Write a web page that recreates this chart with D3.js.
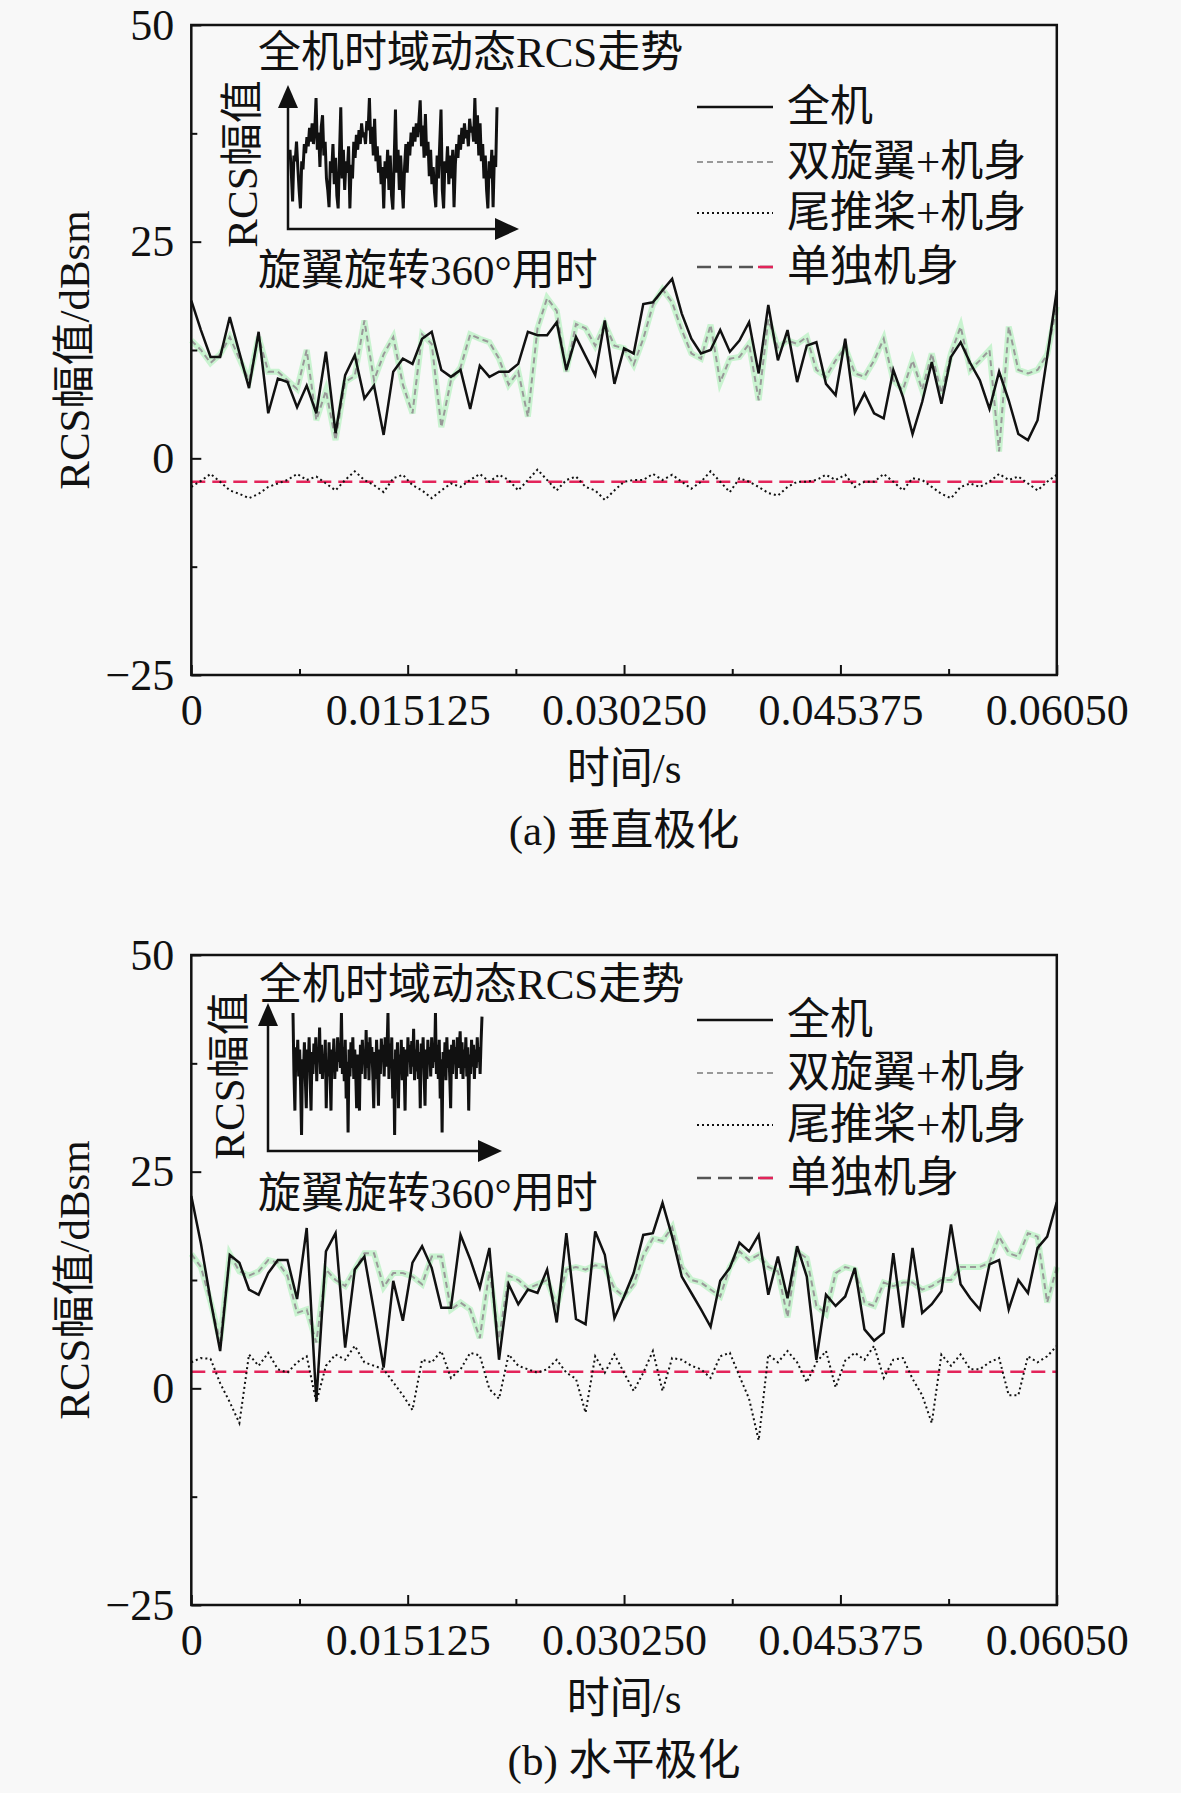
<!DOCTYPE html>
<html>
<head>
<meta charset="utf-8">
<script src="https://cdn.jsdelivr.net/npm/d3@7/dist/d3.min.js"></script>
<style>
    html, body { margin: 0; padding: 0; background: #f8f8f8; }
    svg { display: block; }
</style>
</head>
<body>
<div id="chart"></div>
<script>
// ---- data ----
var timeTicks = [0, 0.015125, 0.03025, 0.045375, 0.0605];
var timeTickLabels = ["0", "0.015125", "0.030250", "0.045375", "0.06050"];
var timeMinor = [0.0075625, 0.0226875, 0.0378125, 0.0529375];
var rcsTicks = [-25, 0, 25, 50];
var rcsTickLabels = ["\u221225", "0", "25", "50"];
var rcsMinor = [-12.5, 12.5, 37.5];
var seriesNames = ["全机", "双旋翼+机身", "尾推桨+机身", "单独机身"];

// 91 samples over one 360 deg rotor turn (0 .. 0.0605 s)
var sampleCount = 91;
var timeEnd = 0.0605;

// (a) vertical polarisation
var fullA = [18.2, 14.8, 11.7, 11.7, 16.3, 12.2, 8.1, 14.6, 5.2, 9.2, 8.8, 5.9, 8.4, 5.2, 12.3, 2.9, 9.6, 11.9, 6.9, 8.4,
    2.7, 10.0, 11.5, 10.9, 13.8, 14.6, 10.2, 9.4, 10.2, 5.7, 10.7, 9.4, 10.0, 10.0, 10.9, 14.6, 14.2, 14.2, 15.7, 10.2,
    14.0, 11.8, 9.6, 15.9, 8.6, 12.7, 12.1, 17.8, 18.0, 19.4, 20.7, 16.7, 13.8, 12.1, 12.5, 14.8, 12.3, 13.6, 15.7, 9.8,
    17.7, 11.3, 14.8, 8.8, 13.0, 13.4, 8.6, 7.3, 13.8, 5.3, 7.5, 5.2, 4.6, 10.2, 7.1, 2.8, 6.5, 11.1, 6.3, 11.7,
    13.4, 11.0, 9.0, 5.7, 10.0, 6.7, 2.8, 2.1, 4.4, 11.7, 19.4];
var rotorA = [13.6, 12.5, 11.0, 12.0, 14.0, 11.5, 9.0, 14.0, 10.0, 10.0, 9.0, 8.0, 12.5, 4.4, 7.8, 2.1, 8.8, 9.5, 15.9, 9.0,
    12.0, 14.0, 8.5, 5.2, 14.3, 13.2, 3.6, 9.0, 10.5, 14.3, 13.8, 13.4, 11.5, 8.5, 10.0, 4.8, 15.0, 18.5, 17.0, 10.0,
    15.5, 15.0, 13.0, 15.5, 13.0, 12.7, 10.8, 13.8, 17.7, 19.5, 18.0, 14.8, 12.1, 11.5, 15.4, 8.8, 11.5, 11.7, 13.2, 6.7,
    16.0, 12.8, 13.6, 13.2, 14.0, 10.2, 9.4, 11.3, 12.8, 9.8, 9.4, 11.3, 13.8, 9.0, 7.9, 11.3, 7.9, 12.1, 7.5, 12.1,
    15.2, 10.2, 11.3, 12.5, 0.8, 15.2, 10.2, 9.8, 10.2, 12.0, 17.5];
var tailA = [-3.3, -2.6, -1.8, -2.7, -3.7, -4.1, -4.6, -4.1, -3.3, -2.9, -2.5, -1.8, -2.5, -2.1, -2.9, -3.7, -2.5, -1.5, -2.5, -3.1,
    -3.9, -2.3, -1.9, -3.1, -3.7, -4.6, -3.7, -2.9, -3.3, -2.5, -1.8, -2.7, -1.9, -2.5, -3.7, -2.5, -1.3, -2.5, -3.7, -2.5,
    -2.1, -3.3, -3.7, -4.8, -3.7, -2.7, -2.5, -2.5, -1.8, -2.5, -1.9, -2.7, -3.5, -2.7, -1.5, -2.7, -3.9, -2.3, -2.7, -3.3,
    -4.0, -4.3, -3.3, -2.7, -2.7, -2.5, -1.9, -2.5, -1.9, -3.3, -2.7, -2.7, -1.8, -2.7, -3.7, -2.3, -2.5, -3.3, -4.1, -4.6,
    -3.3, -2.9, -3.3, -2.7, -1.8, -2.5, -2.1, -2.9, -3.7, -2.7, -1.9];
var bodyA = [-2.7, -2.7];

// (b) horizontal polarisation
var fullB = [22.2, 16.7, 10.2, 4.3, 15.4, 14.5, 11.4, 10.8, 13.3, 14.8, 14.8, 10.3, 18.5, -1.5, 15.8, 17.9, 4.7, 13.7, 15.2, 8.9,
    2.4, 12.4, 7.8, 14.5, 16.4, 13.9, 9.3, 9.3, 17.7, 14.9, 11.6, 16.2, 3.3, 12.0, 9.7, 11.4, 11.0, 13.7, 7.6, 17.9,
    8.0, 7.4, 18.1, 15.4, 8.1, 10.6, 13.3, 17.7, 17.9, 21.4, 17.5, 12.9, 11.0, 9.1, 7.1, 12.4, 13.9, 16.8, 15.8, 17.7,
    10.8, 15.2, 10.4, 16.4, 12.9, 3.3, 10.8, 9.5, 10.6, 13.9, 6.8, 5.5, 6.4, 15.6, 7.0, 16.2, 8.7, 9.7, 11.2, 18.9,
    12.0, 10.4, 9.1, 14.3, 14.8, 9.1, 12.5, 11.0, 16.2, 17.5, 21.5];
var rotorB = [15.5, 14.0, 10.0, 5.5, 15.5, 13.5, 13.0, 13.5, 14.8, 14.5, 13.0, 8.7, 9.1, 5.3, 13.7, 12.5, 11.8, 13.7, 15.6, 15.6,
    11.7, 13.3, 13.3, 12.9, 12.0, 15.2, 15.2, 9.1, 9.9, 9.1, 5.8, 13.5, 5.7, 13.0, 12.5, 11.5, 12.0, 12.5, 9.4, 13.7,
    14.0, 13.7, 14.2, 14.0, 11.5, 10.6, 12.0, 15.3, 17.3, 17.0, 18.6, 14.0, 12.5, 12.2, 11.4, 10.6, 14.0, 15.8, 14.8, 15.4,
    14.0, 13.5, 8.2, 15.8, 15.0, 9.5, 8.6, 13.3, 14.0, 13.7, 9.9, 9.5, 12.2, 11.8, 12.2, 12.2, 11.4, 11.8, 12.5, 12.5,
    14.0, 14.0, 14.0, 14.5, 17.5, 15.6, 15.2, 17.9, 17.5, 9.9, 14.0];
var tailB = [3.0, 3.5, 3.4, 0.6, -1.6, -4.0, 3.9, 2.6, 4.1, 2.2, 1.8, 3.0, 3.7, -1.6, 2.6, 3.9, 3.3, 4.9, 3.0, 2.6,
    2.2, 0.7, -0.8, -2.5, 3.3, 3.0, 4.3, 1.2, 2.2, 4.1, 3.8, -0.1, -1.2, 3.9, 2.6, 2.2, 1.8, 2.2, 3.3, 1.8,
    1.1, -2.8, 3.7, 1.8, 3.9, 1.8, -0.3, 1.8, 4.3, -0.3, 3.5, 3.3, 2.6, 2.2, 1.2, 3.7, 4.1, 1.4, -1.2, -6.0,
    3.9, 3.0, 4.3, 3.0, 0.7, 3.0, 4.3, 0.1, 3.2, 4.1, 3.3, 4.9, 1.2, 3.3, 3.5, 1.1, -0.8, -4.0, 3.9, 2.6,
    3.9, 2.2, 2.2, 3.0, 3.5, -0.8, -0.8, 3.7, 3.0, 3.7, 4.9];
var bodyB = [1.9, 1.9];

// inset traces, relative amplitude (0 = lowest, 1 = highest)
var insetA = [0.55, 0.35, 0.1, 0.5, 0.45, 0.62, 0.4, 0.2, 0.04, 0.45,
    0.38, 0.6, 0.52, 0.66, 0.58, 0.74, 0.62, 0.78, 0.6, 0.72,
    1.0, 0.55, 0.7, 0.4, 0.75, 0.85, 0.5, 0.62, 0.3, 0.2,
    0.05, 0.45, 0.35, 0.6, 0.25, 0.48, 0.15, 0.04, 0.5, 0.92,
    0.3, 0.55, 0.2, 0.45, 0.35, 0.58, 0.04, 0.42, 0.3, 0.62,
    0.48, 0.68, 0.55, 0.72, 0.6, 0.78, 0.66, 0.7, 0.6, 0.8,
    0.72, 1.0, 0.6, 0.75, 0.5, 0.82, 0.45, 0.58, 0.35, 0.5,
    0.25, 0.4, 0.04, 0.45, 0.3, 0.55, 0.2, 0.5, 0.15, 0.03,
    0.45, 0.9, 0.35, 0.55, 0.2, 0.5, 0.25, 0.04, 0.4, 0.6,
    0.35, 0.62, 0.5, 0.7, 0.58, 0.75, 0.62, 0.78, 0.66, 0.8,
    0.98, 0.58, 0.76, 0.48, 0.86, 0.5, 0.62, 0.32, 0.55, 0.25,
    0.4, 0.18, 0.05, 0.5, 0.3, 0.6, 0.9, 0.2, 0.04, 0.45,
    0.35, 0.58, 0.25, 0.5, 0.3, 0.55, 0.05, 0.42, 0.6, 0.48,
    0.68, 0.55, 0.74, 0.6, 0.78, 0.65, 0.72, 0.58, 0.82, 0.7,
    0.75, 0.62, 1.0, 0.6, 0.85, 0.5, 0.78, 0.45, 0.6, 0.3,
    0.5, 0.2, 0.04, 0.45, 0.3, 0.55, 0.05, 0.5, 0.4, 0.92];
var insetB = [1.0, 0.5, 0.2, 0.72, 0.55, 0.78, 0.48, 0.7, 0.4, 0.0,
    0.62, 0.5, 0.76, 0.45, 0.22, 0.7, 0.52, 0.8, 0.46, 0.2,
    0.68, 0.5, 0.75, 0.58, 0.8, 0.44, 0.72, 0.6, 0.88, 0.5,
    0.74, 0.46, 0.66, 0.55, 0.78, 0.22, 0.6, 0.48, 0.76, 0.5,
    0.2, 0.7, 0.55, 0.79, 0.46, 0.68, 0.52, 0.8, 0.6, 0.74,
    0.55, 1.0, 0.5, 0.72, 0.44, 0.78, 0.3, 0.6, 0.02, 0.7,
    0.48, 0.76, 0.55, 0.8, 0.46, 0.7, 0.52, 0.22, 0.66, 0.48,
    0.2, 0.74, 0.5, 0.78, 0.58, 0.7, 0.46, 0.86, 0.55, 0.76,
    0.45, 0.8, 0.6, 0.72, 0.5, 0.22, 0.68, 0.46, 0.78, 0.55,
    0.24, 0.7, 0.5, 0.79, 0.6, 0.74, 0.48, 0.8, 0.56, 0.7,
    1.0, 0.46, 0.75, 0.55, 0.8, 0.3, 0.62, 0.0, 0.7, 0.5,
    0.76, 0.22, 0.66, 0.5, 0.78, 0.45, 0.72, 0.55, 0.2, 0.7,
    0.48, 0.8, 0.6, 0.74, 0.5, 0.77, 0.56, 0.87, 0.45, 0.7,
    0.52, 0.78, 0.46, 0.68, 0.22, 0.75, 0.55, 0.8, 0.5, 0.24,
    0.7, 0.46, 0.78, 0.58, 0.72, 0.48, 0.8, 0.55, 0.7, 0.6,
    1.0, 0.5, 0.74, 0.46, 0.78, 0.3, 0.62, 0.02, 0.68, 0.5,
    0.76, 0.45, 0.8, 0.55, 0.7, 0.48, 0.22, 0.74, 0.5, 0.78,
    0.58, 0.72, 0.46, 0.8, 0.55, 0.7, 0.85, 0.5, 0.76, 0.46,
    0.7, 0.55, 0.8, 0.48, 0.72, 0.2, 0.66, 0.5, 0.78, 0.56,
    0.74, 0.46, 0.7, 0.55, 0.8, 0.6, 0.72, 0.5, 0.76, 0.97];

// ---- layout ----
var W = 1181, H = 1793;
var plotLeft = 191.3, plotRight = 1056.8;
var FONT = "'Liberation Serif', 'Noto Sans CJK SC', serif";

var svg = d3.select("#chart").append("svg")
    .attr("width", W)
    .attr("height", H);

svg.append("rect")
    .attr("width", W)
    .attr("height", H)
    .attr("fill", "#f8f8f8");

var times = d3.range(sampleCount).map(function(i) { return i * timeEnd / (sampleCount - 1); });
var bodyTimes = [0, timeEnd];

drawPanel({
    top: 25, bottom: 675,
    full: fullA, rotor: rotorA, tail: tailA, body: bodyA,
    xTitleY: 783, caption: "(a) 垂直极化", captionY: 845,
    inset: { values: insetA, x0: 290, x1: 497, top: 98, bot: 213, axisX: 288, axisY: 229, tipTop: 85, tipRight: 519,
        titleX: 258, titleY: 67, ylabX: 257, ylabY: 164, xlabX: 258, xlabY: 285, width: 3 },
    legendRows: [107, 162, 213, 267]
});

drawPanel({
    top: 955, bottom: 1605,
    full: fullB, rotor: rotorB, tail: tailB, body: bodyB,
    xTitleY: 1713, caption: "(b) 水平极化", captionY: 1775,
    inset: { values: insetB, x0: 293, x1: 482, top: 1013, bot: 1135, axisX: 268, axisY: 1151, tipTop: 1003, tipRight: 502,
        titleX: 259, titleY: 999, ylabX: 244, ylabY: 1076, xlabX: 258, xlabY: 1208, width: 3 },
    legendRows: [1020, 1073, 1125, 1178]
});

function drawPanel(cfg) {
    var g = svg.append("g");

    var x = d3.scaleLinear().domain([0, timeEnd]).range([plotLeft, plotRight]);
    var y = d3.scaleLinear().domain([-25, 50]).range([cfg.bottom, cfg.top]);

    var line = d3.line()
        .x(function(d, i) { return x(times[i]); })
        .y(function(d) { return y(d); });
    var bodyLine = d3.line()
        .x(function(d, i) { return x(bodyTimes[i]); })
        .y(function(d) { return y(d); });

    // series, back to front
    g.append("path").attr("d", line(cfg.rotor))
        .attr("fill", "none").attr("stroke", "#aaf0b6").attr("stroke-width", 6).attr("opacity", 0.6);
    g.append("path").attr("d", line(cfg.rotor))
        .attr("fill", "none").attr("stroke", "#999").attr("stroke-width", 2).attr("stroke-dasharray", "6,4");
    g.append("path").attr("d", bodyLine(cfg.body))
        .attr("fill", "none").attr("stroke", "#e3245a").attr("stroke-width", 2.5).attr("stroke-dasharray", "14,7");
    g.append("path").attr("d", line(cfg.tail))
        .attr("fill", "none").attr("stroke", "#111").attr("stroke-width", 2).attr("stroke-dasharray", "2,3");
    g.append("path").attr("d", line(cfg.full))
        .attr("fill", "none").attr("stroke", "#111").attr("stroke-width", 2.5).attr("stroke-linejoin", "miter");

    // axes
    var yAxis = d3.axisLeft(y)
        .tickValues(rcsTicks)
        .tickFormat(function(d, i) { return rcsTickLabels[i]; })
        .tickSize(-10)
        .tickPadding(17);
    var yMinor = d3.axisLeft(y).tickValues(rcsMinor).tickFormat("").tickSize(-6);
    var xAxis = d3.axisBottom(x)
        .tickValues(timeTicks)
        .tickFormat(function(d, i) { return timeTickLabels[i]; })
        .tickSize(-10)
        .tickPadding(19);
    var xMinor = d3.axisBottom(x).tickValues(timeMinor).tickFormat("").tickSize(-6);

    [
        [yAxis, "translate(" + plotLeft + ",0)"],
        [yMinor, "translate(" + plotLeft + ",0)"],
        [xAxis, "translate(0," + cfg.bottom + ")"],
        [xMinor, "translate(0," + cfg.bottom + ")"]
    ].forEach(function(a) {
        var ax = g.append("g").attr("transform", a[1]).call(a[0]);
        ax.select(".domain").remove();
        ax.attr("font-size", 44).attr("font-family", FONT);
        ax.selectAll("line").attr("stroke", "#111").attr("stroke-width", 2);
        ax.selectAll("text").attr("fill", "#111");
    });

    g.append("rect")
        .attr("x", plotLeft).attr("y", cfg.top)
        .attr("width", plotRight - plotLeft).attr("height", cfg.bottom - cfg.top)
        .attr("fill", "none").attr("stroke", "#111").attr("stroke-width", 2.5);

    // titles
    var midX = (plotLeft + plotRight) / 2;
    g.append("text")
        .attr("transform", "translate(89," + ((cfg.top + cfg.bottom) / 2) + ") rotate(-90)")
        .attr("text-anchor", "middle")
        .attr("font-family", FONT).attr("font-size", 43).attr("fill", "#111")
        .text("RCS幅值/dBsm");
    g.append("text")
        .attr("x", midX).attr("y", cfg.xTitleY)
        .attr("text-anchor", "middle")
        .attr("font-family", FONT).attr("font-size", 43).attr("fill", "#111")
        .text("时间/s");
    g.append("text")
        .attr("x", midX).attr("y", cfg.captionY)
        .attr("text-anchor", "middle")
        .attr("font-family", FONT).attr("font-size", 43).attr("fill", "#111")
        .text(cfg.caption);

    drawInset(g, cfg.inset);
    drawLegend(g, cfg.legendRows);
}

function drawInset(g, ins) {
    var ix = d3.scaleLinear().domain([0, ins.values.length - 1]).range([ins.x0, ins.x1]);
    var iy = d3.scaleLinear().domain([0, 1]).range([ins.bot, ins.top]);

    g.append("path")
        .attr("d", d3.line().x(function(d, i) { return ix(i); }).y(function(d) { return iy(d); })(ins.values))
        .attr("fill", "none").attr("stroke", "#111").attr("stroke-width", ins.width).attr("stroke-linejoin", "miter");

    // arrows
    g.append("path")
        .attr("d", "M" + ins.axisX + "," + (ins.tipTop + 20) + "V" + ins.axisY + "H" + (ins.tipRight - 22))
        .attr("fill", "none").attr("stroke", "#111").attr("stroke-width", 2.5);
    g.append("path")
        .attr("d", "M" + ins.axisX + "," + ins.tipTop + "L" + (ins.axisX - 10) + "," + (ins.tipTop + 23) +
            "L" + (ins.axisX + 10) + "," + (ins.tipTop + 23) + "Z")
        .attr("fill", "#111");
    g.append("path")
        .attr("d", "M" + ins.tipRight + "," + ins.axisY + "L" + (ins.tipRight - 24) + "," + (ins.axisY - 11) +
            "L" + (ins.tipRight - 24) + "," + (ins.axisY + 11) + "Z")
        .attr("fill", "#111");

    g.append("text")
        .attr("x", ins.titleX).attr("y", ins.titleY)
        .attr("font-family", FONT).attr("font-size", 43).attr("fill", "#111")
        .text("全机时域动态RCS走势");
    g.append("text")
        .attr("transform", "translate(" + ins.ylabX + "," + ins.ylabY + ") rotate(-90)")
        .attr("text-anchor", "middle")
        .attr("font-family", FONT).attr("font-size", 43).attr("fill", "#111")
        .text("RCS幅值");
    g.append("text")
        .attr("x", ins.xlabX).attr("y", ins.xlabY)
        .attr("font-family", FONT).attr("font-size", 43).attr("fill", "#111")
        .text("旋翼旋转360°用时");
}

function drawLegend(g, rows) {
    var x0 = 697, x1 = 773, tx = 787;
    var styles = [
        { stroke: "#111", width: 2.5, dash: null },
        { stroke: "#999", width: 2, dash: "6,4" },
        { stroke: "#111", width: 2, dash: "2,3" },
        { stroke: "#555", width: 2.5, dash: "14,7" }
    ];
    seriesNames.forEach(function(name, i) {
        var s = styles[i];
        var ln = g.append("line")
            .attr("x1", x0).attr("x2", x1).attr("y1", rows[i]).attr("y2", rows[i])
            .attr("stroke", s.stroke).attr("stroke-width", s.width);
        if (s.dash) { ln.attr("stroke-dasharray", s.dash); }
        if (i === 3) {
            // last dash of the body sample is red
            g.append("line")
                .attr("x1", x1 - 15).attr("x2", x1).attr("y1", rows[i]).attr("y2", rows[i])
                .attr("stroke", "#e3245a").attr("stroke-width", s.width);
        }
        g.append("text")
            .attr("x", tx).attr("y", rows[i] + 14)
            .attr("font-family", FONT).attr("font-size", 43).attr("fill", "#111")
            .text(name);
    });
}
</script>
</body>
</html>
